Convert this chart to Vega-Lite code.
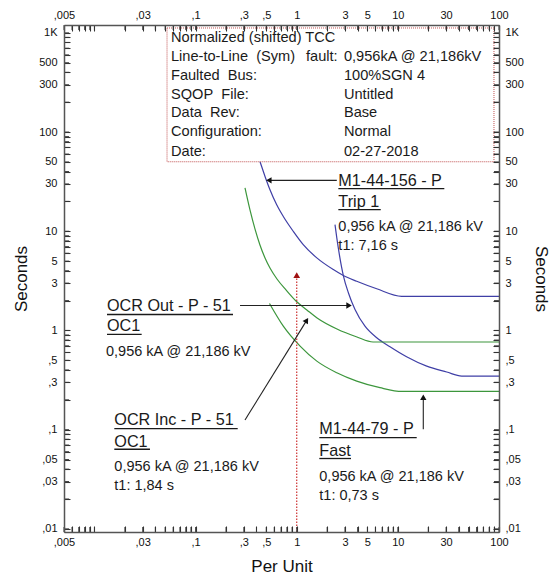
{
  "$schema": "https://vega.github.io/schema/vega-lite/v6.json",
  "width": 435,
  "height": 507,
  "autosize": {"type": "none"},
  "padding": {"left": 64, "top": 25, "right": 54, "bottom": 48},
  "background": "white",
  "config": {
    "view": {"stroke": null},
    "font": "Liberation Sans",
    "axis": {
      "grid": false,
      "domainColor": "#555555",
      "domainWidth": 1.5,
      "ticks": true,
      "tickColor": "#333333",
      "tickWidth": 1.1,
      "labelFont": "Liberation Sans",
      "labelFontSize": 11,
      "labelColor": "#111111",
      "labelOverlap": false,
      "labelFlush": false,
      "labelBound": false,
      "titleFont": "Liberation Sans",
      "titleFontSize": 17,
      "titleFontWeight": "normal",
      "titleColor": "#111111"
    }
  },
  "datasets": {
    "curves": [
      {"series": "M1-44-156", "x": 0.37, "y": 81},
      {"series": "M1-44-156", "x": 0.40, "y": 64},
      {"series": "M1-44-156", "x": 0.433, "y": 50.5},
      {"series": "M1-44-156", "x": 0.486, "y": 35.7},
      {"series": "M1-44-156", "x": 0.544, "y": 26.2},
      {"series": "M1-44-156", "x": 0.634, "y": 18.5},
      {"series": "M1-44-156", "x": 0.737, "y": 14.1},
      {"series": "M1-44-156", "x": 0.925, "y": 9.98},
      {"series": "M1-44-156", "x": 1.16, "y": 7.34},
      {"series": "M1-44-156", "x": 1.58, "y": 5.39},
      {"series": "M1-44-156", "x": 2.30, "y": 4.11},
      {"series": "M1-44-156", "x": 2.89, "y": 3.58},
      {"series": "M1-44-156", "x": 3.92, "y": 3.13},
      {"series": "M1-44-156", "x": 6.18, "y": 2.63},
      {"series": "M1-44-156", "x": 10.9, "y": 2.21},
      {"series": "M1-44-156", "x": 100, "y": 2.21},
      {"series": "OCR Out", "x": 2.39, "y": 11.66},
      {"series": "OCR Out", "x": 2.49, "y": 8.57},
      {"series": "OCR Out", "x": 2.64, "y": 5.82},
      {"series": "OCR Out", "x": 2.89, "y": 3.58},
      {"series": "OCR Out", "x": 3.24, "y": 2.40},
      {"series": "OCR Out", "x": 3.77, "y": 1.63},
      {"series": "OCR Out", "x": 4.73, "y": 1.105},
      {"series": "OCR Out", "x": 6.18, "y": 0.845},
      {"series": "OCR Out", "x": 8.36, "y": 0.686},
      {"series": "OCR Out", "x": 12.2, "y": 0.544},
      {"series": "OCR Out", "x": 19.3, "y": 0.437},
      {"series": "OCR Out", "x": 30.4, "y": 0.381},
      {"series": "OCR Out", "x": 42.8, "y": 0.347},
      {"series": "OCR Out", "x": 100, "y": 0.347},
      {"series": "OCR Inc", "x": 0.308, "y": 27.3},
      {"series": "OCR Inc", "x": 0.345, "y": 16.4},
      {"series": "OCR Inc", "x": 0.387, "y": 10.5},
      {"series": "OCR Inc", "x": 0.433, "y": 7.27},
      {"series": "OCR Inc", "x": 0.486, "y": 5.38},
      {"series": "OCR Inc", "x": 0.544, "y": 4.26},
      {"series": "OCR Inc", "x": 0.638, "y": 3.30},
      {"series": "OCR Inc", "x": 0.783, "y": 2.56},
      {"series": "OCR Inc", "x": 0.983, "y": 1.98},
      {"series": "OCR Inc", "x": 1.26, "y": 1.61},
      {"series": "OCR Inc", "x": 1.59, "y": 1.336},
      {"series": "OCR Inc", "x": 2.50, "y": 1.034},
      {"series": "OCR Inc", "x": 3.94, "y": 0.859},
      {"series": "OCR Inc", "x": 5.68, "y": 0.765},
      {"series": "OCR Inc", "x": 100, "y": 0.765},
      {"series": "M1-44-79", "x": 0.538, "y": 1.87},
      {"series": "M1-44-79", "x": 0.737, "y": 1.105},
      {"series": "M1-44-79", "x": 1.08, "y": 0.695},
      {"series": "M1-44-79", "x": 1.58, "y": 0.491},
      {"series": "M1-44-79", "x": 2.49, "y": 0.375},
      {"series": "M1-44-79", "x": 3.92, "y": 0.309},
      {"series": "M1-44-79", "x": 6.66, "y": 0.265},
      {"series": "M1-44-79", "x": 11.0, "y": 0.243},
      {"series": "M1-44-79", "x": 100, "y": 0.243}
    ],
    "xticks": [
      {"v": 0.005}, {"v": 0.006}, {"v": 0.007}, {"v": 0.008}, {"v": 0.009},
      {"v": 0.01}, {"v": 0.02}, {"v": 0.03}, {"v": 0.04}, {"v": 0.05}, {"v": 0.06}, {"v": 0.07}, {"v": 0.08}, {"v": 0.09},
      {"v": 0.1}, {"v": 0.2}, {"v": 0.3}, {"v": 0.4}, {"v": 0.5}, {"v": 0.6}, {"v": 0.7}, {"v": 0.8}, {"v": 0.9},
      {"v": 1}, {"v": 2}, {"v": 3}, {"v": 4}, {"v": 5}, {"v": 6}, {"v": 7}, {"v": 8}, {"v": 9},
      {"v": 10}, {"v": 20}, {"v": 30}, {"v": 40}, {"v": 50}, {"v": 60}, {"v": 70}, {"v": 80}, {"v": 90}, {"v": 100}
    ],
    "yticks": [
      {"v": 0.01}, {"v": 0.02}, {"v": 0.03}, {"v": 0.04}, {"v": 0.05}, {"v": 0.06}, {"v": 0.07}, {"v": 0.08}, {"v": 0.09},
      {"v": 0.1}, {"v": 0.2}, {"v": 0.3}, {"v": 0.4}, {"v": 0.5}, {"v": 0.6}, {"v": 0.7}, {"v": 0.8}, {"v": 0.9},
      {"v": 1}, {"v": 2}, {"v": 3}, {"v": 4}, {"v": 5}, {"v": 6}, {"v": 7}, {"v": 8}, {"v": 9},
      {"v": 10}, {"v": 20}, {"v": 30}, {"v": 40}, {"v": 50}, {"v": 60}, {"v": 70}, {"v": 80}, {"v": 90},
      {"v": 100}, {"v": 200}, {"v": 300}, {"v": 400}, {"v": 500}, {"v": 600}, {"v": 700}, {"v": 800}, {"v": 900}, {"v": 1000}
    ],
    "faultLine": [{"x": 1, "y": 0.0093, "y2": 3.62}],
    "box": [{"x": 0.0522, "x2": 89.2, "y": 1120, "y2": 50.2}],
    "boxText": [
      {"x": 0.0571, "y": 888, "text": "Normalized (shifted) TCC"},
      {"x": 0.0571, "y": 572, "text": "Line-to-Line\u00a0 (Sym)"},
      {"x": 1.235, "y": 572, "text": "fault:"},
      {"x": 2.93, "y": 572, "text": "0,956kA @ 21,186kV"},
      {"x": 0.0571, "y": 368, "text": "Faulted\u00a0 Bus:"},
      {"x": 2.93, "y": 368, "text": "100%SGN 4"},
      {"x": 0.0571, "y": 237, "text": "SQOP\u00a0 File:"},
      {"x": 2.93, "y": 237, "text": "Untitled"},
      {"x": 0.0571, "y": 156, "text": "Data\u00a0 Rev:"},
      {"x": 2.93, "y": 156, "text": "Base"},
      {"x": 0.0571, "y": 100.6, "text": "Configuration:"},
      {"x": 2.93, "y": 100.6, "text": "Normal"},
      {"x": 0.0571, "y": 63.3, "text": "Date:"},
      {"x": 2.93, "y": 63.3, "text": "02-27-2018"}
    ],
    "labels": [
      {"x": 2.58, "y": 31.8, "text": "M1-44-156 - P"},
      {"x": 2.58, "y": 19.5, "text": "Trip 1"},
      {"x": 0.01331, "y": 1.76, "text": "OCR Out - P - 51"},
      {"x": 0.01331, "y": 1.097, "text": "OC1"},
      {"x": 0.01572, "y": 0.1252, "text": "OCR Inc - P - 51"},
      {"x": 0.01572, "y": 0.0759, "text": "OC1"},
      {"x": 1.672, "y": 0.1009, "text": "M1-44-79 - P"},
      {"x": 1.672, "y": 0.0611, "text": "Fast"}
    ],
    "info": [
      {"x": 2.58, "y": 11.06, "text": "0,956 kA @ 21,186 kV"},
      {"x": 2.58, "y": 7.17, "text": "t1: 7,16 s"},
      {"x": 0.0130, "y": 0.601, "text": "0,956 kA @ 21,186 kV"},
      {"x": 0.01572, "y": 0.0425, "text": "0,956 kA @ 21,186 kV"},
      {"x": 0.01572, "y": 0.0271, "text": "t1: 1,84 s"},
      {"x": 1.672, "y": 0.0337, "text": "0,956 kA @ 21,186 kV"},
      {"x": 1.672, "y": 0.0215, "text": "t1: 0,73 s"}
    ],
    "underlines": [
      {"x": 2.58, "x2": 28.8, "y": 26.9},
      {"x": 2.58, "x2": 6.77, "y": 16.5},
      {"x": 0.01331, "x2": 0.2344, "y": 1.449},
      {"x": 0.01331, "x2": 0.0293, "y": 0.912},
      {"x": 0.01572, "x2": 0.2609, "y": 0.1026},
      {"x": 0.01572, "x2": 0.0354, "y": 0.0635},
      {"x": 1.672, "x2": 15.36, "y": 0.0833},
      {"x": 1.672, "x2": 3.44, "y": 0.0512}
    ],
    "arrows": [
      {"x": 2.49, "y": 32.6, "x2": 0.53, "y2": 32.6},
      {"x": 0.275, "y": 1.785, "x2": 3.29, "y2": 1.785},
      {"x": 0.308, "y": 0.1252, "x2": 1.255, "y2": 1.264},
      {"x": 17.84, "y": 0.1009, "x2": 17.84, "y2": 0.2118}
    ],
    "headLeft": [{"x": 0.53, "y": 32.6}],
    "headRight": [{"x": 3.29, "y": 1.785}],
    "headDiag": [{"x": 1.255, "y": 1.264}],
    "headUp": [{"x": 17.84, "y": 0.2118}],
    "headRed": [{"x": 1, "y": 3.62}]
  },
  "resolve": {"axis": {"x": "independent", "y": "independent"}},
  "layer": [
    {
      "data": {"name": "curves"},
      "mark": {"type": "line", "interpolate": "monotone", "strokeWidth": 1.2, "clip": true},
      "encoding": {
        "x": {"field": "x", "type": "quantitative",
          "scale": {"type": "log", "domain": [0.005, 100], "nice": false},
          "axis": {"orient": "bottom", "title": "Per Unit", "titlePadding": 11, "labelPadding": 10, "tickSize": -6, "zindex": 1,
            "values": [0.005,0.006,0.007,0.008,0.009,0.01,0.02,0.03,0.04,0.05,0.06,0.07,0.08,0.09,0.1,0.2,0.3,0.4,0.5,0.6,0.7,0.8,0.9,1,2,3,4,5,6,7,8,9,10,20,30,40,50,60,70,80,90,100],
            "labelExpr": "indexof([0.005,0.03,0.1,0.3,0.5,1,3,5,10,30,100], datum.value) >= 0 ? replace(format(datum.value, '~g'), '0.', ',') : ''"}},
        "y": {"field": "y", "type": "quantitative",
          "scale": {"type": "log", "domain": [0.0093, 1200], "nice": false},
          "axis": {"orient": "left", "title": "Seconds", "titlePadding": 8, "labelPadding": 13, "tickSize": -6, "zindex": 1,
            "values": [0.01,0.02,0.03,0.04,0.05,0.06,0.07,0.08,0.09,0.1,0.2,0.3,0.4,0.5,0.6,0.7,0.8,0.9,1,2,3,4,5,6,7,8,9,10,20,30,40,50,60,70,80,90,100,200,300,400,500,600,700,800,900,1000],
            "labelExpr": "datum.value == 1000 ? '1K' : (indexof([0.01,0.03,0.05,0.1,0.3,0.5,1,3,5,10,30,50,100,300,500], datum.value) >= 0 ? replace(format(datum.value, '~g'), '0.', ',') : '')"}},
        "color": {"field": "series", "type": "nominal", "legend": null,
          "scale": {"domain": ["M1-44-156", "OCR Out", "OCR Inc", "M1-44-79"], "range": ["#3f3fa6", "#3f3fa6", "#3c963c", "#3c963c"]}},
        "detail": {"field": "series"}
      }
    },
    {
      "data": {"name": "faultLine"},
      "mark": {"type": "rule", "color": "#cc3030", "strokeDash": [1.5, 1.5], "strokeWidth": 1.2},
      "encoding": {
        "x": {"field": "x", "type": "quantitative", "scale": {"type": "log", "domain": [0.005, 100], "nice": false}, "axis": null},
        "y": {"field": "y", "type": "quantitative", "scale": {"type": "log", "domain": [0.0093, 1200], "nice": false}, "axis": null},
        "y2": {"field": "y2"}
      }
    },
    {
      "data": {"name": "headRed"},
      "mark": {"type": "point", "shape": "triangle-up", "filled": true, "color": "#a01010", "opacity": 1, "size": 45},
      "encoding": {
        "x": {"field": "x", "type": "quantitative", "scale": {"type": "log", "domain": [0.005, 100], "nice": false}, "axis": null},
        "y": {"field": "y", "type": "quantitative", "scale": {"type": "log", "domain": [0.0093, 1200], "nice": false}, "axis": null}
      }
    },
    {
      "data": {"name": "box"},
      "mark": {"type": "rect", "fill": "white", "stroke": "#c05050", "strokeDash": [1, 1], "strokeWidth": 1},
      "encoding": {
        "x": {"field": "x", "type": "quantitative",
          "scale": {"type": "log", "domain": [0.005, 100], "nice": false},
          "axis": {"orient": "top", "title": null, "labelPadding": 11, "tickSize": -6, "zindex": 1,
            "values": [0.005,0.006,0.007,0.008,0.009,0.01,0.02,0.03,0.04,0.05,0.06,0.07,0.08,0.09,0.1,0.2,0.3,0.4,0.5,0.6,0.7,0.8,0.9,1,2,3,4,5,6,7,8,9,10,20,30,40,50,60,70,80,90,100],
            "labelExpr": "indexof([0.005,0.03,0.1,0.3,0.5,1,3,5,10,30,100], datum.value) >= 0 ? replace(format(datum.value, '~g'), '0.', ',') : ''"}},
        "x2": {"field": "x2"},
        "y": {"field": "y", "type": "quantitative",
          "scale": {"type": "log", "domain": [0.0093, 1200], "nice": false},
          "axis": {"orient": "right", "title": "Seconds", "titleAngle": 90, "titlePadding": 8, "labelPadding": 12, "tickSize": -6, "zindex": 1,
            "values": [0.01,0.02,0.03,0.04,0.05,0.06,0.07,0.08,0.09,0.1,0.2,0.3,0.4,0.5,0.6,0.7,0.8,0.9,1,2,3,4,5,6,7,8,9,10,20,30,40,50,60,70,80,90,100,200,300,400,500,600,700,800,900,1000],
            "labelExpr": "datum.value == 1000 ? '1K' : (indexof([0.01,0.03,0.05,0.1,0.3,0.5,1,3,5,10,30,50,100,300,500], datum.value) >= 0 ? replace(format(datum.value, '~g'), '0.', ',') : '')"}},
        "y2": {"field": "y2"}
      }
    },
    {
      "data": {"name": "boxText"},
      "mark": {"type": "text", "align": "left", "baseline": "middle", "fontSize": 14.6, "color": "#1a1a1a", "font": "Liberation Sans"},
      "encoding": {
        "x": {"field": "x", "type": "quantitative", "scale": {"type": "log", "domain": [0.005, 100], "nice": false}, "axis": null},
        "y": {"field": "y", "type": "quantitative", "scale": {"type": "log", "domain": [0.0093, 1200], "nice": false}, "axis": null},
        "text": {"field": "text"}
      }
    },
    {
      "data": {"name": "underlines"},
      "mark": {"type": "rule", "color": "#1a1a1a", "strokeWidth": 1.3},
      "encoding": {
        "x": {"field": "x", "type": "quantitative", "scale": {"type": "log", "domain": [0.005, 100], "nice": false}, "axis": null},
        "x2": {"field": "x2"},
        "y": {"field": "y", "type": "quantitative", "scale": {"type": "log", "domain": [0.0093, 1200], "nice": false}, "axis": null}
      }
    },
    {
      "data": {"name": "arrows"},
      "mark": {"type": "rule", "color": "#222222", "strokeWidth": 1.1},
      "encoding": {
        "x": {"field": "x", "type": "quantitative", "scale": {"type": "log", "domain": [0.005, 100], "nice": false}, "axis": null},
        "x2": {"field": "x2"},
        "y": {"field": "y", "type": "quantitative", "scale": {"type": "log", "domain": [0.0093, 1200], "nice": false}, "axis": null},
        "y2": {"field": "y2"}
      }
    },
    {
      "data": {"name": "headLeft"},
      "mark": {"type": "point", "shape": "triangle-left", "filled": true, "color": "#111111", "opacity": 1, "size": 40},
      "encoding": {
        "x": {"field": "x", "type": "quantitative", "scale": {"type": "log", "domain": [0.005, 100], "nice": false}, "axis": null},
        "y": {"field": "y", "type": "quantitative", "scale": {"type": "log", "domain": [0.0093, 1200], "nice": false}, "axis": null}
      }
    },
    {
      "data": {"name": "headRight"},
      "mark": {"type": "point", "shape": "triangle-right", "filled": true, "color": "#111111", "opacity": 1, "size": 40},
      "encoding": {
        "x": {"field": "x", "type": "quantitative", "scale": {"type": "log", "domain": [0.005, 100], "nice": false}, "axis": null},
        "y": {"field": "y", "type": "quantitative", "scale": {"type": "log", "domain": [0.0093, 1200], "nice": false}, "axis": null}
      }
    },
    {
      "data": {"name": "headDiag"},
      "mark": {"type": "point", "shape": "triangle-up", "angle": 31.7, "filled": true, "color": "#111111", "opacity": 1, "size": 40},
      "encoding": {
        "x": {"field": "x", "type": "quantitative", "scale": {"type": "log", "domain": [0.005, 100], "nice": false}, "axis": null},
        "y": {"field": "y", "type": "quantitative", "scale": {"type": "log", "domain": [0.0093, 1200], "nice": false}, "axis": null}
      }
    },
    {
      "data": {"name": "headUp"},
      "mark": {"type": "point", "shape": "triangle-up", "filled": true, "color": "#111111", "opacity": 1, "size": 40},
      "encoding": {
        "x": {"field": "x", "type": "quantitative", "scale": {"type": "log", "domain": [0.005, 100], "nice": false}, "axis": null},
        "y": {"field": "y", "type": "quantitative", "scale": {"type": "log", "domain": [0.0093, 1200], "nice": false}, "axis": null}
      }
    },
    {
      "data": {"name": "labels"},
      "mark": {"type": "text", "align": "left", "baseline": "middle", "fontSize": 16.2, "color": "#1a1a1a", "font": "Liberation Sans"},
      "encoding": {
        "x": {"field": "x", "type": "quantitative", "scale": {"type": "log", "domain": [0.005, 100], "nice": false}, "axis": null},
        "y": {"field": "y", "type": "quantitative", "scale": {"type": "log", "domain": [0.0093, 1200], "nice": false}, "axis": null},
        "text": {"field": "text"}
      }
    },
    {
      "data": {"name": "info"},
      "mark": {"type": "text", "align": "left", "baseline": "middle", "fontSize": 14.5, "color": "#1a1a1a", "font": "Liberation Sans"},
      "encoding": {
        "x": {"field": "x", "type": "quantitative", "scale": {"type": "log", "domain": [0.005, 100], "nice": false}, "axis": null},
        "y": {"field": "y", "type": "quantitative", "scale": {"type": "log", "domain": [0.0093, 1200], "nice": false}, "axis": null},
        "text": {"field": "text"}
      }
    },
    {
      "data": {"name": "xticks"},
      "mark": {"type": "rule", "color": "#444444", "strokeWidth": 1},
      "encoding": {
        "x": {"field": "v", "type": "quantitative", "scale": {"type": "log", "domain": [0.005, 100], "nice": false}, "axis": null},
        "y": {"datum": 0.0093, "type": "quantitative", "scale": {"type": "log", "domain": [0.0093, 1200], "nice": false}, "axis": null},
        "y2": {"datum": 0.010444}
      }
    },
    {
      "data": {"name": "xticks"},
      "mark": {"type": "rule", "color": "#444444", "strokeWidth": 1},
      "encoding": {
        "x": {"field": "v", "type": "quantitative", "scale": {"type": "log", "domain": [0.005, 100], "nice": false}, "axis": null},
        "y": {"datum": 1200, "type": "quantitative", "scale": {"type": "log", "domain": [0.0093, 1200], "nice": false}, "axis": null},
        "y2": {"datum": 1068.6}
      }
    },
    {
      "data": {"name": "yticks"},
      "mark": {"type": "rule", "color": "#444444", "strokeWidth": 1},
      "encoding": {
        "y": {"field": "v", "type": "quantitative", "scale": {"type": "log", "domain": [0.0093, 1200], "nice": false}, "axis": null},
        "x": {"datum": 0.005, "type": "quantitative", "scale": {"type": "log", "domain": [0.005, 100], "nice": false}, "axis": null},
        "x2": {"datum": 0.0056025}
      }
    },
    {
      "data": {"name": "yticks"},
      "mark": {"type": "rule", "color": "#444444", "strokeWidth": 1},
      "encoding": {
        "y": {"field": "v", "type": "quantitative", "scale": {"type": "log", "domain": [0.0093, 1200], "nice": false}, "axis": null},
        "x": {"datum": 100, "type": "quantitative", "scale": {"type": "log", "domain": [0.005, 100], "nice": false}, "axis": null},
        "x2": {"datum": 89.25}
      }
    }
  ]
}
